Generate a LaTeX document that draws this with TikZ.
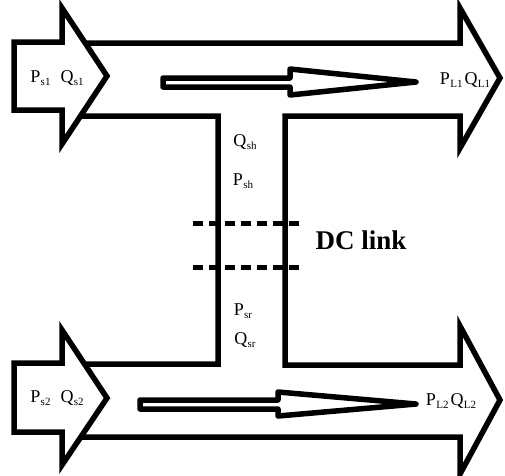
\documentclass[tikz,border=0pt]{standalone}
\usepackage{fontspec}
\setmainfont{Liberation Serif}
\newcommand\lbl[2]{#1\kern0.3pt\raisebox{-3pt}{\fontsize{11}{11}\selectfont #2}}
\begin{document}
\begin{tikzpicture}[x=1pt,y=-1pt,
  outline/.style={draw=black,line width=5.5pt,fill=white,line join=miter},
  thin/.style={draw=black,line width=5.5pt,fill=white,line join=round},
  lab/.style={inner sep=0pt,font=\fontsize{18}{18}\selectfont},
  dclab/.style={inner sep=0pt,font=\fontsize{27}{27}\selectfont\bfseries},
  dcline/.style={draw=black,line width=5pt,dash pattern=on 10pt off 6pt}]
\useasboundingbox (0,0) rectangle (505,475);
% combined H-shaped outline
\draw[outline] (75,43) -- (460,43) -- (460,8) -- (500,78) -- (460,148) -- (460,116)
  -- (285,116) -- (285,365) -- (460,365) -- (460,326) -- (500,400) -- (460,474)
  -- (460,437) -- (75,437) -- (75,364) -- (218,364) -- (218,116) -- (75,116) -- cycle;
% small input arrows
\draw[outline] (14,42) -- (62,42) -- (62,8) -- (107,76) -- (62,144) -- (62,110) -- (14,110) -- cycle;
\draw[outline] (14,363) -- (62,363) -- (62,330) -- (107,398) -- (62,465) -- (62,432) -- (14,432) -- cycle;
% thin inner arrows
\draw[thin] (163,78) -- (290,78) -- (290,69) -- (416,82) -- (290,95) -- (290,87) -- (163,87) -- cycle;
\draw[thin] (140,400) -- (278,400) -- (278,392) -- (416,404) -- (278,416) -- (278,409) -- (140,409) -- cycle;
% DC link dashed lines
\coordinate (d1a) at (193,223); \coordinate (d1b) at (302,223);
\coordinate (d2a) at (193,267); \coordinate (d2b) at (302,267);
\draw[dcline] (d1a) -- (d1b);
\draw[dcline] (d2a) -- (d2b);
% labels
\node[lab] (ps1) at (57,78) {\lbl{P}{s1}\hspace{10pt}\lbl{Q}{s1}};
\node[lab] (ps2) at (57,398) {\lbl{P}{s2}\hspace{10pt}\lbl{Q}{s2}};
\node[lab] (pl1) at (465,80) {\lbl{P}{L1}\hspace{2pt}\lbl{Q}{L1}};
\node[lab] (pl2) at (451,401) {\lbl{P}{L2}\hspace{2pt}\lbl{Q}{L2}};
\node[lab] (qsh) at (245,142) {\lbl{Q}{sh}};
\node[lab] (psh) at (243,181) {\lbl{P}{sh}};
\node[lab] (psr) at (243,311) {\lbl{P}{sr}};
\node[lab] (qsr) at (245,340) {\lbl{Q}{sr}};
\node[dclab] (dc) at (361,240) {DC link};
\end{tikzpicture}
\end{document}
